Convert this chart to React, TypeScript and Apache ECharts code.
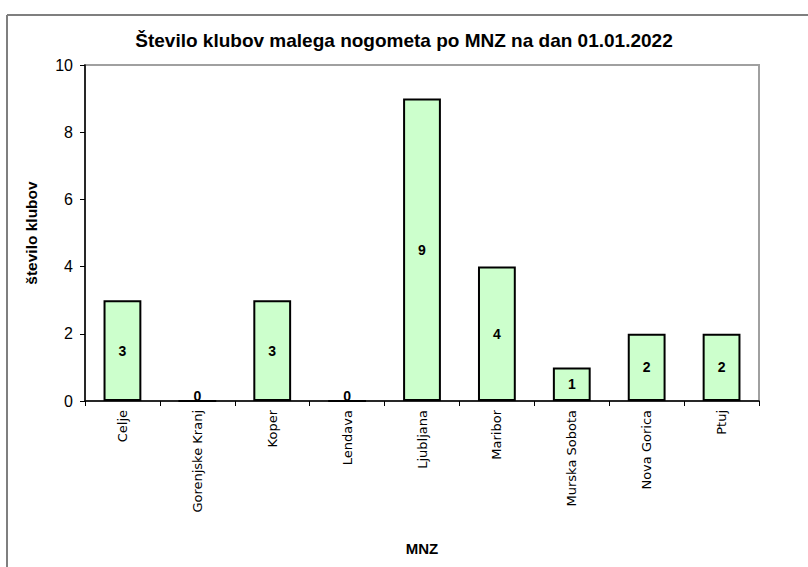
import React, { useEffect, useRef } from "react";
import * as echarts from "echarts";

const categories = ["Celje", "Gorenjske Kranj", "Koper", "Lendava", "Ljubljana", "Maribor", "Murska Sobota", "Nova Gorica", "Ptuj"];
const clubCounts = [3, 0, 3, 0, 9, 4, 1, 2, 2];
const yTicks = { min: 0, max: 10, interval: 2 };

const TITLE = "Število klubov malega nogometa po MNZ na dan 01.01.2022";
const NARROW = "'Liberation Sans Narrow', 'Liberation Sans', Arial, sans-serif";

export default function App() {
  const ref = useRef<HTMLDivElement>(null);
  useEffect(() => {
    if (!ref.current) return;
    const chart = echarts.init(ref.current, null, { renderer: "svg" });
    chart.setOption({
      animation: false,
      backgroundColor: "#ffffff",
      title: {
        text: TITLE,
        left: "center",
        top: 26,
        textStyle: { fontFamily: NARROW, fontWeight: "bold", fontSize: 19, color: "#000" },
      },
      graphic: [
        { type: "line", shape: { x1: 7, y1: 15, x2: 808, y2: 15 }, style: { stroke: "#7f7f7f", lineWidth: 2 } },
        { type: "line", shape: { x1: 7, y1: 15, x2: 7, y2: 567 }, style: { stroke: "#7f7f7f", lineWidth: 2 } },
      ],
      grid: {
        left: 85,
        top: 65,
        right: 49,
        bottom: 166,
        show: true,
        borderColor: "#a0a0a0",
        borderWidth: 2,
        backgroundColor: "transparent",
      },
      xAxis: {
        type: "category",
        data: categories,
        name: "MNZ",
        nameLocation: "middle",
        nameGap: 140,
        nameTextStyle: { fontFamily: NARROW, fontWeight: "bold", fontSize: 15, color: "#000" },
        axisLine: { lineStyle: { color: "#000", width: 1.5 } },
        axisTick: { show: true, length: 5, lineStyle: { color: "#000" }, alignWithLabel: false },
        axisLabel: { rotate: 90, fontFamily: "'DejaVu Sans', Verdana, sans-serif", fontSize: 13, color: "#000", margin: 9, interval: 0 },
        splitLine: { show: false },
      },
      yAxis: {
        type: "value",
        min: yTicks.min,
        max: yTicks.max,
        interval: yTicks.interval,
        name: "število klubov",
        nameLocation: "middle",
        nameGap: 46,
        nameTextStyle: { fontFamily: NARROW, fontWeight: "bold", fontSize: 15.5, color: "#000" },
        axisLine: { show: true, lineStyle: { color: "#000", width: 1.5 } },
        axisTick: { show: true, length: 5, inside: false, lineStyle: { color: "#000" } },
        axisLabel: { fontFamily: NARROW, fontSize: 16, color: "#000", margin: 12 },
        splitLine: { show: false },
      },
      series: [
        {
          type: "bar",
          data: clubCounts.map((v) => ({
            value: v,
            label: v === 0 ? { position: "top", distance: -3 } : undefined,
          })),
          barWidth: "50.5%",
          itemStyle: { color: "#ccffcc", borderColor: "#000", borderWidth: 2 },
          label: {
            show: true,
            position: "inside",
            fontFamily: NARROW,
            fontWeight: "bold",
            fontSize: 14,
            color: "#000",
          },
        },
      ],
    });
    return () => chart.dispose();
  }, []);
  return <div ref={ref} style={{ position: "fixed", left: 0, top: 0, width: 808, height: 567 }} />;
}
